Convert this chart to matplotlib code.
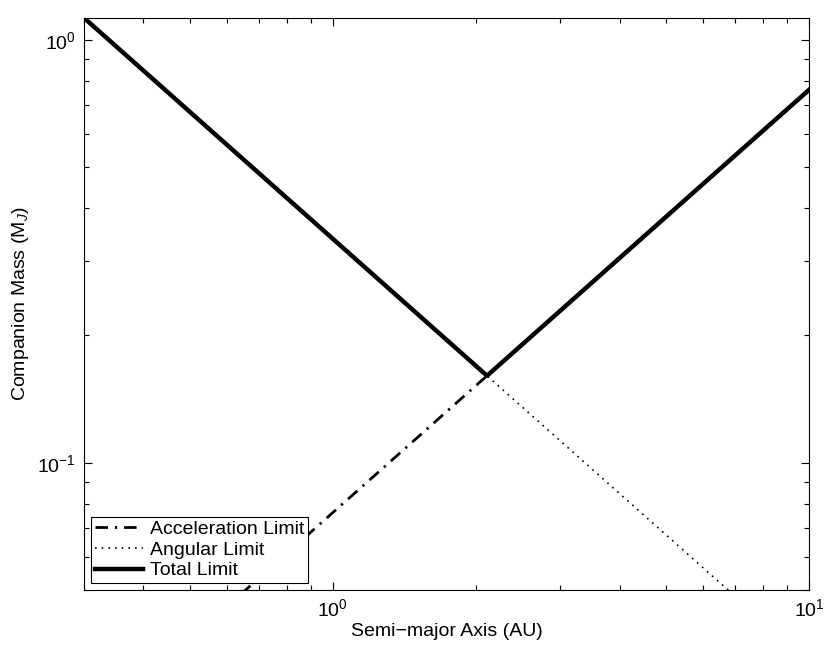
import matplotlib
matplotlib.use('Agg')
import matplotlib.pyplot as plt
from matplotlib.ticker import LogLocator, NullFormatter

plt.rcParams['font.family'] = ['Liberation Sans', 'DejaVu Sans']
plt.rcParams['mathtext.fontset'] = 'custom'
plt.rcParams['mathtext.rm'] = 'Liberation Sans'
plt.rcParams['mathtext.it'] = 'Liberation Sans:italic'

# Values (semi-major axis in AU, mass in M_J)
accel_a = [0.3, 2.107, 10.0]
accel_m = [0.0229, 0.1606, 0.762]
angular_a = [0.3, 2.107, 10.0]
angular_m = [1.128, 0.1606, 0.0338]
total_a = [0.3, 2.107, 10.0]
total_m = [1.128, 0.1606, 0.762]

fig = plt.figure(figsize=(8.3, 6.5), dpi=100)
ax = fig.add_axes([0.1012, 0.0923, 0.8735, 0.88])

ax.loglog(accel_a, accel_m, color='black', linestyle=(0, (4.5, 2.5, 0.8, 2.5)), lw=2.0,
          label='Acceleration Limit')
ax.loglog(angular_a, angular_m, color='black', linestyle=(0, (1, 3)), lw=1.2,
          label='Angular Limit')
ax.loglog(total_a, total_m, color='black', linestyle='-', lw=3.2, label='Total Limit')

ax.set_xlim(0.3, 10)
ax.set_ylim(0.05, 1.127)

ax.xaxis.set_major_locator(LogLocator(base=10, numticks=10))
ax.xaxis.set_minor_locator(LogLocator(base=10, subs=range(2, 10), numticks=10))
ax.yaxis.set_minor_locator(LogLocator(base=10, subs=range(2, 10), numticks=10))
ax.xaxis.set_minor_formatter(NullFormatter())
ax.yaxis.set_minor_formatter(NullFormatter())

ax.tick_params(which='both', direction='in', top=True, right=True, labelsize=14, width=0.8)
ax.tick_params(which='major', length=6, pad=6)
ax.tick_params(which='minor', length=3.5)
for s in ax.spines.values():
    s.set_linewidth(0.8)

ax.set_xlabel('Semi\u2212major Axis (AU)', fontsize=14, labelpad=2)
ax.set_ylabel('Companion Mass (M$_J$)', fontsize=14, labelpad=4)

leg = ax.legend(loc='lower left', fontsize=14, handlelength=2.5, frameon=True,
                fancybox=False, framealpha=1, borderpad=0.2, labelspacing=0.15,
                handletextpad=0.35, borderaxespad=0.35)
leg.get_frame().set_edgecolor('black')
leg.get_frame().set_linewidth(0.8)

fig.savefig('out.png', dpi=100)
